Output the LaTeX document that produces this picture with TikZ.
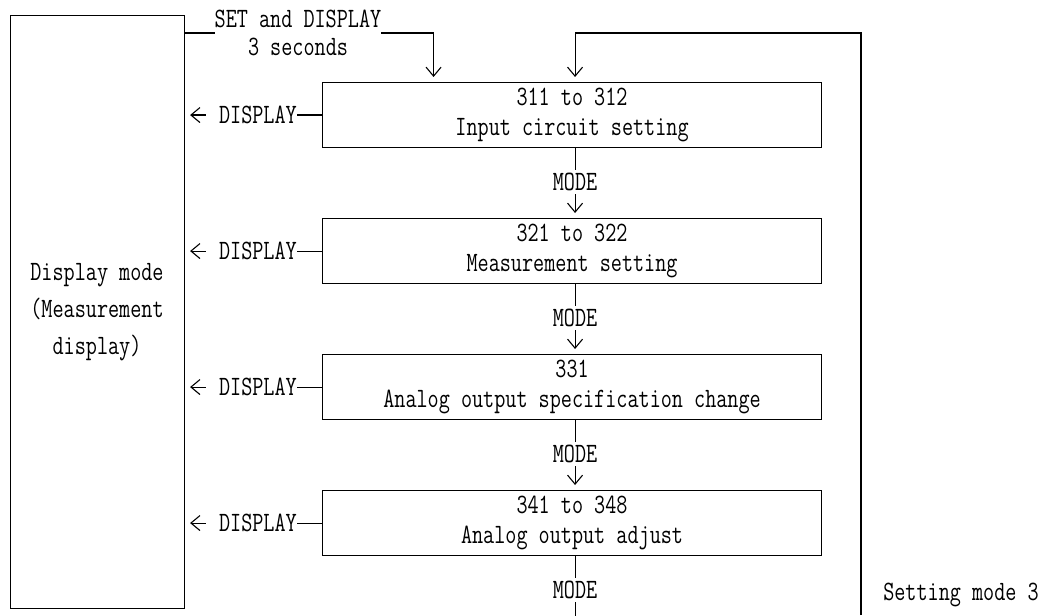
\documentclass[tikz,border=0pt]{standalone}
\usepackage{fontspec}
\usetikzlibrary{arrows.meta,calc}
\newfontfamily\reffam{lmmono12-regular}[Extension=.otf, FakeStretch=0.77]
\newcommand{\reffont}[1]{\reffam\fontsize{28}{#1}\selectfont}
\tikzset{
  every node/.style={font=\reffont{30}, inner sep=0pt},
  boxn/.style={draw, line width=1.1pt, minimum width=499pt, minimum height=65pt, anchor=north west, align=center},
  conn/.style={line width=1.1pt},
  arr/.style={line width=1.1pt, -{Straight Barb[length=9pt,width=15pt,line width=1.1pt]}},
  modelbl/.style={inner ysep=3pt},
  displbl/.style={inner xsep=0pt},
}
\begin{document}
\begin{tikzpicture}[x=1pt,y=-1pt]
\useasboundingbox (0,0) rectangle (1056,615);
% left box
\node[draw, line width=1.1pt, minimum width=174pt, minimum height=593pt, anchor=north west] (left) at (10,15) {};
\node[align=center, font=\reffont{37}] (lefttxt) at (97,312) {Display mode\\(Measurement\\display)};
% boxes
\node[boxn] (b1) at (322,82) {311 to 312\\Input circuit setting};
\node[boxn] (b2) at (322,218) {321 to 322\\Measurement setting};
\node[boxn] (b3) at (322,354) {331\\Analog output specification change};
\node[boxn] (b4) at (322,490) {341 to 348\\Analog output adjust};
% top entry
\node[align=center, font=\reffont{28}] (settxt) at (298,33) {SET and DISPLAY\\3 seconds};
\draw[conn] (left.east |- settxt) -- (settxt.west);
\draw[arr, shorten >=5pt] (settxt.east) -| ([xshift=-138.5pt]b1.north);
% MODE connectors
\foreach \a/\b/\m in {b1/b2/m1, b2/b3/m2, b3/b4/m3}{
  \node[modelbl] (\m) at ($(\a.south)+(3,34)$) {MODE};
  \draw[conn] ([xshift=3pt]\a.south) -- (\m.north);
  \draw[arr, shorten >=5pt] (\m.south) -- ([xshift=3pt]\b.north);
}
\node[modelbl] (m4) at ($(b4.south)+(3,34)$) {MODE};
\draw[conn] ([xshift=3pt]b4.south) -- (m4.north);
\coordinate (m4end) at ($(b4.south)+(3,61)$);
\draw[conn] (m4.south) -- (m4end);
% return loop
\coordinate (loopbot) at (861,615);
\draw[arr, shorten >=5pt] (loopbot) -- (loopbot |- settxt) -| ([xshift=3pt]b1.north);
% DISPLAY arrows
\foreach \b/\d in {b1/d1, b2/d2, b3/d3, b4/d4}{
  \node[displbl, anchor=east] (\d) at ([xshift=-25pt]\b.west) {DISPLAY};
  \draw[conn] (\d.east) -- (\b.west);
  \draw[arr, shorten >=5pt] ([xshift=-13pt]\d.west) -- (left.east |- \d);
}
\node (setmode) at (961,595) {Setting mode 3};
\end{tikzpicture}
\end{document}
